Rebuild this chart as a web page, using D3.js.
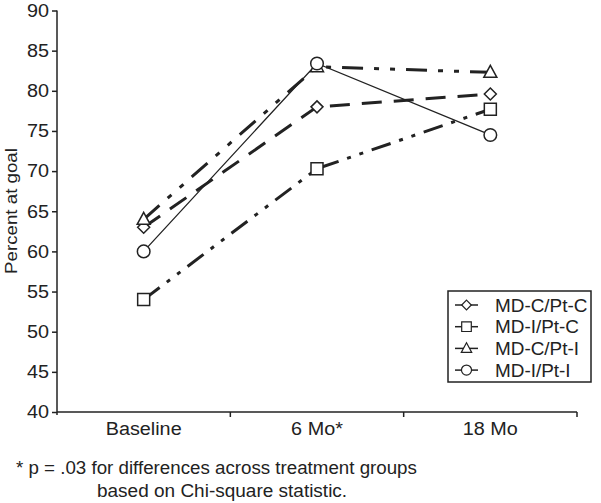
<!DOCTYPE html>
<html><head><meta charset="utf-8">
<script src="https://cdn.jsdelivr.net/npm/d3@7"></script>
<style>body{margin:0;background:#fff}svg{display:block}text{font-family:"Liberation Sans",Arial,sans-serif;fill:#222}</style>
</head><body><svg id="c" width="601" height="503"></svg>
<script>
const categories = ["Baseline","6 Mo*","18 Mo"];
const seriesNames = ["MD-C/Pt-C","MD-I/Pt-C","MD-C/Pt-I","MD-I/Pt-I"];
const mdcPtc = [63, 78, 79.6];
const mdiPtc = [54, 70.3, 77.7];
const mdcPti = [64, 83, 82.3];
const mdiPti = [60, 83.4, 74.5];
const yTicks = [40,45,50,55,60,65,70,75,80,85,90];

const values = [mdcPtc, mdiPtc, mdcPti, mdiPti];
const symbols = ["diamond","square","triangle","circle"];
const dashes = ["20,12", "20,9,4,9,4,9", "21,11,5,11,5,11", null];
const widths = [3, 3, 3, 1.3];
const ink = "#222";

function stretch(sel, f) {
  sel.each(function(){
    const len = this.getComputedTextLength();
    d3.select(this).attr("textLength", len*f).attr("lengthAdjust","spacingAndGlyphs");
  });
}

const svg = d3.select("#c");
const x = d3.scaleBand().domain(categories).range([57, 577]).padding(0);
const y = d3.scaleLinear().domain([40, 90]).range([412, 10.5]);
const cx = d => x(d) + x.bandwidth()/2;

// y axis
const yAxis = d3.axisLeft(y).tickValues(yTicks).tickSize(5).tickPadding(3);
const gy = svg.append("g").attr("transform","translate(57,0)").call(yAxis);
gy.select(".domain").attr("stroke", ink).attr("stroke-width",1.5).attr("d","M0,10.5V415");
gy.selectAll(".tick line").attr("stroke", ink).attr("stroke-width",1.5);
gy.selectAll(".tick text").attr("font-size",18).style("fill",ink).attr("font-family","Liberation Sans, Arial, sans-serif");
stretch(gy.selectAll(".tick text"), 1.1);

// x axis
const gx = svg.append("g").attr("transform","translate(0,412)");
gx.append("line").attr("x1",57).attr("x2",577).attr("stroke",ink).attr("stroke-width",1.5);
const bounds = categories.map(c => x(c) + x.bandwidth());
gx.selectAll("line.t").data(bounds).enter().append("line").attr("class","t")
  .attr("x1",d=>d).attr("x2",d=>d).attr("y1",0).attr("y2",5).attr("stroke",ink).attr("stroke-width",1.5);
const xl = gx.selectAll("text").data(categories).enter().append("text")
  .attr("x",d=>cx(d)).attr("y",23).attr("text-anchor","middle").attr("font-size",18).text(d=>d);
stretch(xl, 1.1);

// y label
const yl = svg.append("text").attr("transform","translate(17,211) rotate(-90)").attr("text-anchor","middle")
  .attr("font-size",17).text("Percent at goal");
stretch(yl, 1.1);

function sym(g, type, px, py) {
  const s = g.append("path").attr("fill","#fff").attr("stroke",ink).attr("stroke-width",1.5);
  if (type==="diamond") s.attr("d",`M${px},${py-6}L${px+6},${py}L${px},${py+6}L${px-6},${py}Z`);
  else if (type==="square") s.attr("d",`M${px-6},${py-6}h12v12h-12Z`);
  else if (type==="triangle") s.attr("d",`M${px},${py-7}L${px+6.5},${py+5}L${px-6.5},${py+5}Z`);
  else s.attr("d",`M${px+6.3},${py}A6.3,6.3 0 1 1 ${px-6.3},${py}A6.3,6.3 0 1 1 ${px+6.3},${py}Z`);
}

const line = d3.line().x((d,i)=>cx(categories[i])).y(d=>y(d));
values.forEach((v,k)=>{
  svg.append("path").attr("d",line(v)).attr("fill","none").attr("stroke",ink)
    .attr("stroke-width",widths[k]).attr("stroke-dasharray",dashes[k]);
});
[1,0,2,3].forEach(k=>{
  const g = svg.append("g");
  values[k].forEach((v,i)=>sym(g, symbols[k], cx(categories[i]), y(v)));
});

// legend
const lg = svg.append("g");
lg.append("rect").attr("x",448).attr("y",291).attr("width",143).attr("height",91)
  .attr("fill","#fff").attr("stroke",ink).attr("stroke-width",1.5);
seriesNames.forEach((n,k)=>{
  const ly = 305 + k*21.7;
  lg.append("line").attr("x1",455).attr("x2",478).attr("y1",ly).attr("y2",ly).attr("stroke",ink).attr("stroke-width",1.5);
  const g = lg.append("g").attr("transform",`translate(${466.5},${ly}) scale(0.8)`);
  sym(g, symbols[k], 0, 0);
  const t = lg.append("text").attr("x",495).attr("y",ly+6.5).attr("font-size",18).text(n);
  stretch(t, 1.05);
});

// footnote
const f1 = svg.append("text").attr("x",16).attr("y",474).attr("font-size",17.5).text("* p = .03 for differences across treatment groups");
const f2 = svg.append("text").attr("x",97).attr("y",497).attr("font-size",17.5).text("based on Chi-square statistic.");
stretch(f1, 1.07); stretch(f2, 1.085);
</script></body></html>
